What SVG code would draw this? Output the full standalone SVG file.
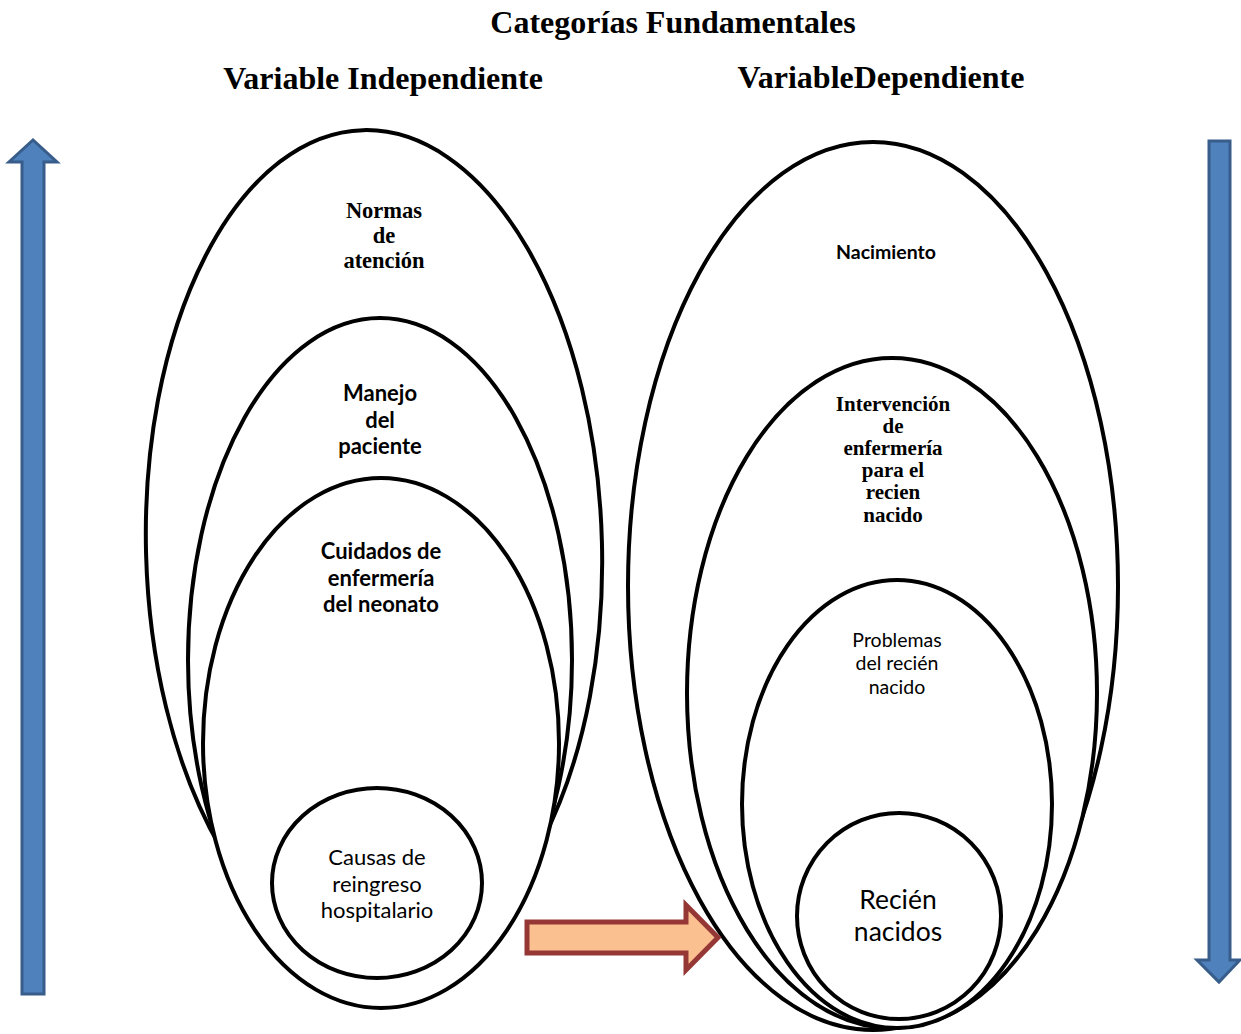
<svg xmlns="http://www.w3.org/2000/svg" width="1241" height="1034" viewBox="0 0 1241 1034">
<style>
.ell{fill:#fff;stroke:#000;stroke-width:4}
.hd{font-family:"Liberation Serif","Times New Roman",serif;font-weight:bold;fill:#000;text-anchor:middle}
.sr{font-family:"Liberation Serif","Times New Roman",serif;font-weight:bold;fill:#000;text-anchor:middle}
.sb{font-family:Lato,"Liberation Sans",sans-serif;font-weight:bold;fill:#000;text-anchor:middle}
.sn{font-family:Lato,"Liberation Sans",sans-serif;fill:#000;text-anchor:middle}
.blue{fill:#4F81BD;stroke:#385D8A;stroke-width:3}
.orange{fill:#FAC090;stroke:#953735;stroke-width:5}
</style>
<rect width="1241" height="1034" fill="#fff"/>
<g id="titles">
<text class="hd" x="673" y="33" font-size="32">Categorías Fundamentales</text>
<text class="hd" x="383" y="89" font-size="32">Variable Independiente</text>
<text class="hd" x="881" y="88" font-size="32">VariableDependiente</text>
</g>
<g id="left-outer"><ellipse class="ell" cx="374" cy="548" rx="228" ry="418" transform="rotate(-1.5 374 548)"/>
<text class="sr" font-size="22.5"><tspan x="384" y="218">Normas</tspan><tspan x="384" y="243">de</tspan><tspan x="384" y="268">atención</tspan></text></g>
<g id="left-second"><ellipse class="ell" cx="380" cy="660" rx="192" ry="342"/>
<text class="sb" font-size="22"><tspan x="380" y="401">Manejo</tspan><tspan x="380" y="428">del</tspan><tspan x="380" y="454">paciente</tspan></text></g>
<g id="left-third"><ellipse class="ell" cx="381" cy="743" rx="178" ry="265"/>
<text class="sb" font-size="22"><tspan x="381" y="559">Cuidados de</tspan><tspan x="381" y="586">enfermería</tspan><tspan x="381" y="612">del neonato</tspan></text></g>
<g id="left-inner"><ellipse class="ell" cx="377" cy="883" rx="105" ry="95"/>
<text class="sn" font-size="22"><tspan x="377" y="865">Causas de</tspan><tspan x="377" y="892">reingreso</tspan><tspan x="377" y="918">hospitalario</tspan></text></g>
<g id="right-outer"><ellipse class="ell" cx="873" cy="586" rx="245" ry="444"/>
<text class="sb" font-size="19.5" x="886" y="259">Nacimiento</text></g>
<g id="right-second"><ellipse class="ell" cx="892" cy="693" rx="205" ry="335"/>
<text class="sr" font-size="21"><tspan x="893" y="411">Intervención</tspan><tspan x="893" y="433">de</tspan><tspan x="893" y="455">enfermería</tspan><tspan x="893" y="477">para el</tspan><tspan x="893" y="499">recien</tspan><tspan x="893" y="522">nacido</tspan></text></g>
<g id="right-third"><ellipse class="ell" cx="897" cy="804" rx="155" ry="224"/>
<text class="sn" font-size="19.5"><tspan x="897" y="647">Problemas</tspan><tspan x="897" y="670">del recién</tspan><tspan x="897" y="694">nacido</tspan></text></g>
<g id="right-inner"><ellipse class="ell" cx="899" cy="916" rx="102" ry="103"/>
<text class="sn" font-size="26.5"><tspan x="898" y="909">Recién</tspan><tspan x="898" y="941">nacidos</tspan></text></g>
<g id="connectors">
<polygon class="blue" points="22,994 44,994 44,162 57,162 33,140 9,162 22,162"/>
<polygon class="blue" points="1209,141 1230,141 1230,960 1240,960 1219,982 1197,960 1209,960"/>
<polygon class="orange" points="527,922 686,922 686,905 718,937.5 686,970 686,953 527,953"/>
</g>
</svg>
